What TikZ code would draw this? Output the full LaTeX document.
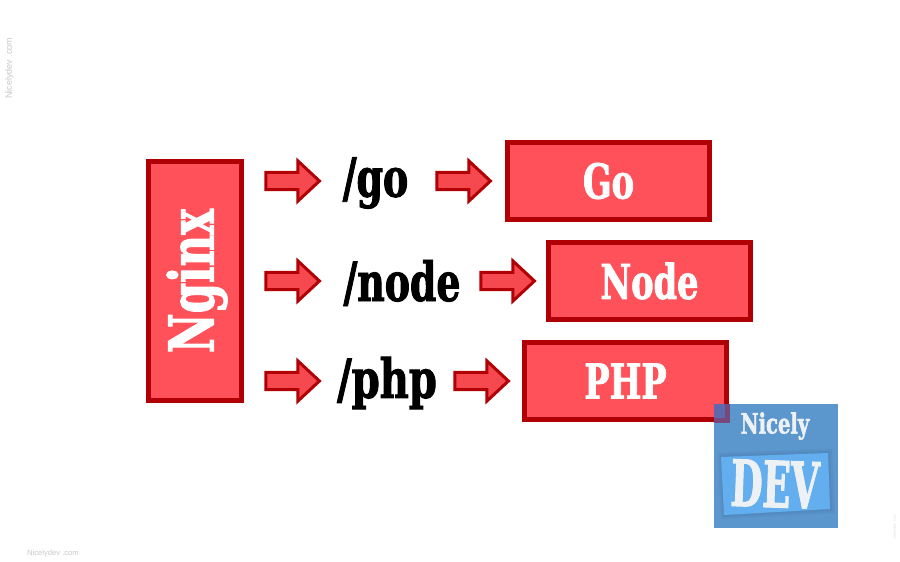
\documentclass[tikz,border=0pt]{standalone}
\usepackage{fontspec}
\setmainfont{DejaVu Serif}[BoldFont=* Bold,BoldFeatures={FakeBold=1.6},FakeStretch=0.7]
\setsansfont{Liberation Sans}
\usetikzlibrary{shapes.arrows}
\definecolor{boxfill}{HTML}{FF5159}
\definecolor{boxline}{HTML}{B00006}
\definecolor{arrowfill}{HTML}{F6484F}
\definecolor{logoblue}{HTML}{5B96CC}
\definecolor{logolight}{HTML}{62AEEE}
\definecolor{logoshade}{HTML}{4F86BA}
\definecolor{logotext}{HTML}{EEF1F4}
\definecolor{marktext}{HTML}{C8C8C8}
\tikzset{
  x=1pt,y=-1pt,
  redbox/.style={draw=boxline,fill=boxfill,line width=5pt,minimum width=202pt,minimum height=77pt,inner sep=0pt,
     text=white,font=\bfseries\fontsize{48}{48}\selectfont},
  blockarrow/.style={single arrow,draw=boxline,fill=arrowfill,line width=3pt,inner xsep=0pt,inner ysep=7.2pt,
     minimum height=53.5pt,minimum width=37pt,single arrow head extend=11.5pt,single arrow tip angle=86,
     single arrow head indent=0pt,outer sep=0pt,anchor=center},
  route/.style={text=black,inner sep=0pt,font=\bfseries\fontsize{54}{54}\selectfont},
  wm/.style={text=marktext,inner sep=0pt,font=\sffamily\fontsize{9}{10}\selectfont},
}
\begin{document}
\begin{tikzpicture}
\useasboundingbox (0,0) rectangle (900,562);
\fill[white] (0,0) rectangle (900,562);
% main boxes
\node[redbox,minimum width=93pt,minimum height=239pt,font=\bfseries\fontsize{62}{62}\selectfont] (nginx) at (195,281) {};
\node[text=white,inner sep=0pt,rotate=90,font=\bfseries\fontsize{62}{62}\selectfont] (nginxlabel) at (197,281) {Nginx};
\node[redbox] (go) at (608.5,181) {Go};
\node[redbox] (node) at (649.5,281) {Node};
\node[redbox] (php) at (625.5,381) {PHP};
% route labels
\node[route] (rgo) at (375.5,183) {/go};
\node[route] (rnode) at (402,283) {/node};
\node[route] (rphp) at (387,383) {\scalebox{1.06}[1]{/php}};
% arrows
\node[blockarrow] (a1) at (288,181) {};
\node[blockarrow] (a2) at (288,281) {};
\node[blockarrow] (a3) at (288,381) {};
\node[blockarrow] (b1) at (459,181) {};
\node[blockarrow] (b2) at (503,281) {};
\node[blockarrow] (b3) at (477,381) {};
% logo
\fill[logoblue] (714,404) rectangle (838,528);
\begin{scope}
  \clip (714,404) rectangle (838,528);
  \fill[black!30!blue!60!red,opacity=.3] (729.5,422.5) rectangle (700,330);
  \fill[boxline,opacity=.3] (729.5,422.5) rectangle (700,417.5);
  \fill[boxline,opacity=.3] (729.5,417.5) rectangle (724.5,330);
\end{scope}
\fill[logoshade,opacity=.35] (718,453) -- (832,449) -- (835,513) -- (721,519) -- cycle;
\fill[logoshade,opacity=.5] (720,455) -- (830,451) -- (832,511) -- (723,517) -- cycle;
\fill[logolight] (721,457) -- (828,453) -- (830,509) -- (724,515) -- cycle;
\node[text=logotext,inner sep=0pt,font=\bfseries\fontsize{28}{28}\selectfont] (lnicely) at (775,426) {Nicely};
\node[text=logotext,inner sep=0pt,rotate=-2,font=\bfseries\fontsize{64}{64}\selectfont] (ldev) at (775,484) {\scalebox{.82}[1]{DEV}};
% watermarks
\node[wm,rotate=90] (w1) at (9.5,68) {Nicelydev .com};
\node[wm,font=\sffamily\fontsize{7.6}{8}\selectfont] (w2) at (53,554) {Nicelydev .com};
\node[wm,rotate=90,font=\sffamily\fontsize{3.6}{4}\selectfont,text=marktext!60] (w3) at (895,527) {Nicelydev .com};
\end{tikzpicture}
\end{document}
